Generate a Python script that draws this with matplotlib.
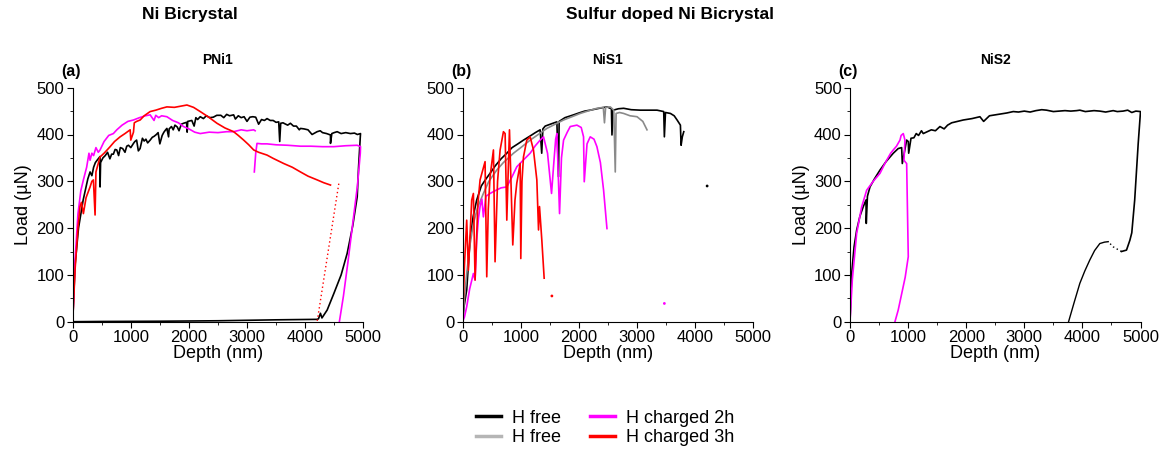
import numpy as np
import matplotlib
matplotlib.use("Agg")
import matplotlib.pyplot as plt
from matplotlib.ticker import MultipleLocator

plt.rcParams['font.family'] = ['Liberation Sans', 'DejaVu Sans']

# ---------------- (a) PNi1, Ni bicrystal ----------------
a_free_x = [0, 40, 100, 180, 260, 299, 330, 360, 390, 420, 471, 471, 480, 520, 560, 600, 640, 670, 700,
            730, 759, 790, 820, 860, 900, 930, 960, 1000, 1046, 1070, 1100, 1130, 1160, 1200, 1230,
            1260, 1290, 1333, 1370, 1400, 1440, 1470, 1500, 1540, 1570, 1600, 1621, 1650, 1660, 1700,
            1730, 1760, 1800, 1830, 1870, 1908, 1960, 1970, 1980, 2050, 2090, 2120, 2150, 2195, 2250,
            2300, 2360, 2420, 2480, 2550, 2600, 2650, 2700, 2770, 2800, 2850, 2900, 2950, 3000, 3050,
            3100, 3150, 3200, 3250, 3300, 3345, 3400, 3450, 3500, 3546, 3563, 3580, 3620, 3650, 3700,
            3747, 3800, 3850, 3900, 3920, 3980, 4050, 4120, 4207, 4260, 4300, 4370, 4437, 4437, 4460,
            4500, 4552, 4620, 4700, 4780, 4850, 4900, 4954, 4950, 4920, 4897, 4820, 4724, 4620, 4494,
            4380, 4290, 4264, 4230, 4200, 3500, 2500, 1500, 500, 0]
a_free_y = [0, 120, 200, 260, 305, 320, 312, 330, 340, 345, 353, 288, 340, 350, 355, 362, 348, 358, 358,
            368, 367, 355, 372, 370, 362, 375, 377, 372, 381, 385, 388, 365, 370, 392, 386,
            390, 382, 388, 394, 396, 400, 404, 380, 398, 405, 410, 413, 395, 412, 417,
            410, 420, 416, 408, 422, 424, 426, 405, 428, 430, 418, 436, 432, 438, 434,
            440, 436, 437, 441, 441, 436, 443, 440, 442, 433, 440, 436, 438, 428, 437,
            438, 437, 422, 432, 430, 434, 430, 430, 426, 427, 385, 424, 425, 423, 420,
            424, 418, 418, 410, 413, 412, 410, 400, 406, 408, 404, 402, 399, 381, 402,
            404, 406, 402, 404, 402, 403, 400, 402, 395, 330, 267, 205, 146, 100, 60,
            25, 8, 18, 6, 5, 4, 2, 1, 0.5, 0]

a_2h_x = [0, 40, 90, 140, 184, 240, 280, 299, 330, 360, 400, 440, 471, 540, 620, 700, 759, 850, 950,
          1046, 1150, 1250, 1333, 1400, 1430, 1480, 1530, 1621, 1720, 1820, 1908, 2000, 2100, 2195,
          2350, 2500, 2650, 2770, 2900, 3000, 3115, 3140, np.nan,
          3126, 3150, 3172, 3250, 3345, 3500, 3700, 3920, 4100, 4300, 4494, 4700, 4897, 4954, 4950,
          4900, 4820, 4740, 4660, 4590]
a_2h_y = [0, 130, 230, 280, 303, 330, 360, 345, 360, 355, 372, 362, 367, 385, 398, 402, 410, 420, 428,
          431, 436, 440, 442, 430, 441, 436, 440, 438, 430, 425, 417, 412, 405, 402,
          405, 404, 406, 406, 410, 408, 410, 408, np.nan,
          320, 360, 381, 380, 380, 378, 377, 375, 375, 374, 374, 376, 377, 374, 360,
          290, 210, 130, 55, 0]

a_3h_x = [0, 40, 90, 126, 150, 184, 230, 299, 330, 356, 385, 400, 471, 540, 600, 644, 720, 816, 900,
          989, 1000, 1046, 1060, 1100, 1161, 1230, 1333, 1430, 1530, 1621, 1750, 1880, 1966, 2080,
          2195, 2330, 2483, 2620, 2770, 2850, 2943, 3030, 3115, 3200, 3345, 3450, 3632, 3780, 3920,
          4050, 4207, 4320, 4437]
a_3h_y = [0, 110, 200, 246, 255, 231, 265, 288, 300, 303, 228, 320, 352, 360, 368, 374, 385, 395, 402,
          410, 388, 405, 425, 428, 431, 440, 449, 452, 456, 459, 458, 461, 463, 458,
          449, 438, 424, 414, 406, 398, 388, 378, 367, 362, 356, 349, 338, 330, 320,
          311, 303, 297, 292]
a_3h_dot_x = [4580, 4207]
a_3h_dot_y = [295, 0]

# ---------------- (b) NiS1, S-doped Ni bicrystal ----------------
b_free_x = [0, 20, 69, 126, 180, 241, 320, 400, 471, 560, 660, 759, 850, 950, 1046, 1150, 1250, 1333,
            1360, 1380, 1420, 1530, 1621, 1649, 1660, 1760, 1908, 2000, 2100, 2195, 2350, 2483, 2560,
            2569, 2590, 2680, 2770, 2900, 3057, 3200, 3345, 3460, 3471, 3490, 3575, 3640, 3690, 3747,
            3759, 3780, 3805]
b_free_y = [0, 30, 68, 174, 225, 260, 290, 305, 317, 333, 348, 360, 372, 380, 388, 396, 404, 410,
            360, 412, 418, 423, 427, 310, 428, 436, 442, 446, 450, 452, 456, 459, 455,
            399, 452, 455, 456, 453, 452, 452, 452, 449, 395, 447, 445, 440, 431, 420,
            377, 395, 406]

b_free2_x = [0, 30, 69, 120, 184, 260, 356, 450, 586, 700, 874, 1000, 1161, 1300, 1448, 1560, 1736,
             1880, 2023, 2150, 2310, 2420, 2440, 2460, 2540, 2600, 2626, 2640, 2700, 2770, 2880, 3000,
             3100, 3172]
b_free2_y = [0, 50, 103, 160, 210, 245, 274, 300, 324, 340, 360, 372, 388, 400, 413, 420, 431,
             438, 445, 450, 456, 458, 425, 458, 459, 452, 320, 445, 447, 445, 440, 438,
             428, 410]

b_2h_x = [0, 30, 69, 120, 184, 213, 241, 270, 299, 330, 356, 400, 471, 560, 660, 759, 850, 931,
          1040, 1161, 1250, 1333, 1391, 1460, 1529, 1563, 1600, 1621, 1667, 1700, 1736, 1800,
          1851, 1966, 2040, 2080, 2092, 2140, 2195, 2260, 2310, 2370, 2425, 2483]
b_2h_y = [0, 10, 32, 70, 103, 89, 174, 220, 246, 262, 224, 268, 274, 280, 286, 288, 310, 331,
          345, 360, 376, 388, 395, 360, 274, 331, 390, 402, 231, 350, 388, 405,
          417, 420, 415, 395, 299, 380, 395, 390, 374, 340, 281, 199]

b_3h_x = [0, 30, 69, 98, 155, 184, 213, 260, 299, 385, 414, 440, 471, 529, 557, 600, 644, 701,
          730, 759, 790, 805, 862, 900, 931, 989, 1000, 1020, 1046, 1103, 1161, 1218, 1276, 1305,
          1322, 1362, 1402]
b_3h_y = [0, 120, 217, 110, 260, 274, 89, 250, 303, 342, 96, 240, 310, 367, 128, 300, 367, 406,
          402, 217, 350, 410, 164, 260, 296, 338, 135, 300, 352, 388, 395, 367, 303, 196,
          246, 174, 93]

b_dots_x = [1535, 4207, 3471]
b_dots_y = [55, 290, 39]

# ---------------- (c) NiS2, S-doped Ni bicrystal ----------------
c_free_x = [0, 29, 70, 115, 170, 229, 275, 280, 300, 344, 420, 516, 620, 745, 830, 889, 900, 975,
            1003, 1010, 1050, 1100, 1140, 1180, 1230, 1261, 1330, 1400, 1470, 1548, 1620, 1680, 1750,
            1850, 1950, 2100, 2236, 2300, 2400, 2500, 2600, 2700, 2810, 2900, 3000, 3100, 3200, 3300,
            3383, 3500, 3600, 3700, 3800, 3900, 3956, 4050, 4200, 4300, 4400, 4530, 4600, 4700, 4780,
            4850, 4920, 5000, 4960, 4900, 4850, 4817, 4759, 4673]
c_free_y = [0, 103, 160, 196, 225, 246, 260, 210, 268, 288, 305, 324, 342, 360, 370, 372, 338, 388,
            385, 360, 392, 393, 402, 398, 408, 402, 406, 410, 408, 417, 412, 420, 425,
            428, 431, 434, 438, 428, 440, 442, 444, 446, 449, 448, 450, 448, 451, 453,
            452, 449, 450, 451, 450, 451, 452, 449, 451, 450, 448, 451, 449, 450, 452,
            447, 450, 449, 380, 260, 190, 174, 153, 150]
c_free_dot_x = [4673, 4600, 4530, 4444]
c_free_dot_y = [150, 155, 160, 171]
c_free_unload_x = [4444, 4380, 4300, 4210, 4128, 4040, 3956, 3860, 3762]
c_free_unload_y = [171, 170, 167, 152, 132, 108, 82, 42, 0]

c_2h_x = [0, 40, 115, 200, 287, 400, 516, 580, 631, 700, 745, 800, 860, 880, 917, 946, 929, 960,
          975, 1003, 950, 890, 830, 774]
c_2h_y = [0, 90, 189, 245, 281, 300, 317, 333, 345, 360, 367, 375, 388, 398, 402, 388, 345, 340,
          338, 139, 95, 60, 25, 0]

# ---------------- figure ----------------
fig = plt.figure(figsize=(11.64, 4.53), dpi=100)

lefts = [72.7 / 1164, 462.7 / 1164, 850 / 1164]
w = 290.5 / 1164
bottom = (453 - 321.7) / 453
h = 234 / 453

axes = [fig.add_axes([l, bottom, w, h]) for l in lefts]

lw = 1.2
ax = axes[0]
ax.plot(a_free_x, a_free_y, color='black', lw=lw)
ax.plot(a_2h_x, a_2h_y, color='#ff00ff', lw=lw)
ax.plot(a_3h_x, a_3h_y, color='#ff0000', lw=lw)
ax.plot(a_3h_dot_x, a_3h_dot_y, color='#ff0000', lw=1.0, ls=(0, (1, 2)))

ax = axes[1]
ax.plot(b_free_x, b_free_y, color='black', lw=lw)
ax.plot(b_free2_x, b_free2_y, color='#8a8a8a', lw=lw)
ax.plot(b_2h_x, b_2h_y, color='#ff00ff', lw=lw)
ax.plot(b_3h_x, b_3h_y, color='#ff0000', lw=lw)
ax.scatter(b_dots_x, b_dots_y, s=1, c=['#ff0000', 'black', '#ff00ff'], zorder=3)

ax = axes[2]
ax.plot(c_free_x, c_free_y, color='black', lw=lw)
ax.plot(c_free_dot_x, c_free_dot_y, color='black', lw=1.0, ls=(0, (1, 2)))
ax.plot(c_free_unload_x, c_free_unload_y, color='black', lw=1.0)
ax.plot(c_2h_x, c_2h_y, color='#ff00ff', lw=lw)

names = ['PNi1', 'NiS1', 'NiS2']
letters = ['(a)', '(b)', '(c)']
for i, ax in enumerate(axes):
    ax.set_xlim(0, 5000)
    ax.set_ylim(0, 500)
    ax.xaxis.set_major_locator(MultipleLocator(1000))
    ax.xaxis.set_minor_locator(MultipleLocator(500))
    ax.yaxis.set_major_locator(MultipleLocator(100))
    ax.yaxis.set_minor_locator(MultipleLocator(50))
    for s in ['top', 'right']:
        ax.spines[s].set_visible(False)
    ax.tick_params(which='major', direction='out', length=4, labelsize=12, pad=2)
    ax.tick_params(which='minor', direction='out', length=2)
    ax.set_xlabel('Depth (nm)', fontsize=13, labelpad=0)
    if i != 1:
        ax.set_ylabel('Load (\u00b5N)', fontsize=13, labelpad=3)
    ax.set_title(names[i], fontsize=10, fontweight='bold', pad=17)
    ax.text(-0.04, 1.07, letters[i], transform=ax.transAxes, fontsize=11.5,
            fontweight='bold', ha='left', va='center')

narrow = ['Liberation Sans Narrow', 'Liberation Sans', 'DejaVu Sans']
fig.text(190 / 1164, 1 - 15 / 453, 'Ni Bicrystal', ha='center', va='center',
         fontsize=12.5, fontweight='bold', family=narrow)
fig.text(670 / 1164, 1 - 15 / 453, 'Sulfur doped Ni Bicrystal', ha='center', va='center',
         fontsize=12.5, fontweight='bold', family=narrow)

handles = [
    plt.Line2D([], [], color='black', lw=2.5),
    plt.Line2D([], [], color='#b5b5b5', lw=2.5),
    plt.Line2D([], [], color='#ff00ff', lw=2.5),
    plt.Line2D([], [], color='#ff0000', lw=2.5),
]
labels = ['H free', 'H free', 'H charged 2h', 'H charged 3h']
fig.legend(handles, labels, ncol=2, loc='center', bbox_to_anchor=(605 / 1164, 1 - 428 / 453),
           frameon=False, fontsize=13, handlelength=1.4, handletextpad=0.6,
           columnspacing=1.6, labelspacing=0.15, borderpad=0)

fig.savefig('out.png', dpi=100)
